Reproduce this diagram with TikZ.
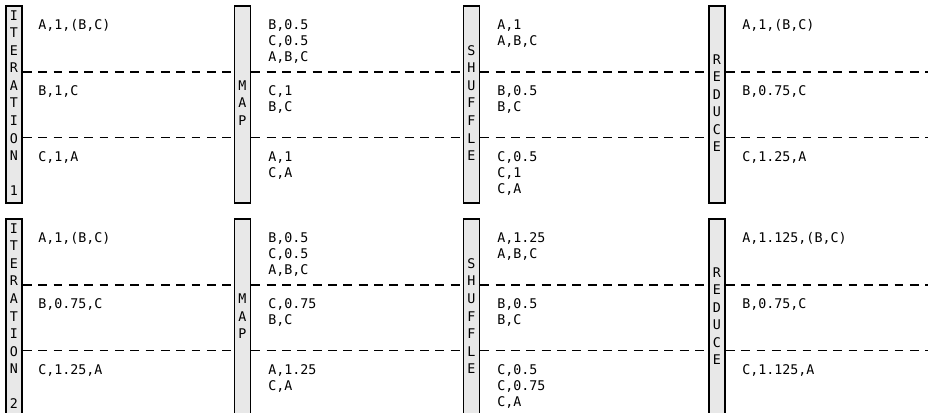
\documentclass[tikz,border=0pt]{standalone}
\usepackage{fontspec}
\setmonofont{DejaVu Sans Mono}
\definecolor{barfill}{HTML}{E8E8E8}
\newcommand\vstack[1]{{\renewcommand\arraystretch{1.094}\begin{tabular}{@{}c@{}}#1\end{tabular}}}
\newcommand\celltxt[1]{\begin{tabular}[t]{@{}l@{}}#1\end{tabular}}
\tikzset{
  bar/.style={draw=black, fill=barfill, line width=1.1pt, rectangle, inner sep=0pt,
    minimum width=12.2pt, minimum height=147.75pt, font=\ttfamily\fontsize{10}{12}\selectfont},
  celltext/.style={anchor=base west, inner sep=0pt, font=\ttfamily\fontsize{10}{12}\selectfont},
  sepline/.style={line width=1pt, dash pattern=on 6.6pt off 4.9pt}
}
\begin{document}
\begin{tikzpicture}[x=0.75pt,y=-0.75pt]
\useasboundingbox (0,0) rectangle (928,413);
\clip (0,0) rectangle (928,413);
% ---------- row 1 ----------
\node[bar] (it1) at (14,104.5) {\vstack{I\\T\\E\\R\\A\\T\\I\\O\\N\\ \\1}};
\node[bar] (map1) at (242.5,104.5) {\vstack{M\\A\\P}};
\node[bar] (sh1) at (471.5,104.5) {\vstack{S\\H\\U\\F\\F\\L\\E}};
\node[bar] (red1) at (717,104.5) {\vstack{R\\E\\D\\U\\C\\E}};
\coordinate (r1a) at (928,72);
\coordinate (r1b) at (928,137.5);
\draw[sepline] (it1.east |- r1a) -- (map1.west |- r1a);
\draw[sepline] (it1.east |- r1b) -- (map1.west |- r1b);
\draw[sepline] (map1.east |- r1a) -- (sh1.west |- r1a);
\draw[sepline] (map1.east |- r1b) -- (sh1.west |- r1b);
\draw[sepline] (sh1.east |- r1a) -- (red1.west |- r1a);
\draw[sepline] (sh1.east |- r1b) -- (red1.west |- r1b);
\draw[sepline] (red1.east |- r1a) -- (r1a);
\draw[sepline] (red1.east |- r1b) -- (r1b);
\node[celltext] (t111) at (38,30) {\celltxt{A,1,(B,C)}};
\node[celltext] (t112) at (38,96) {\celltxt{B,1,C}};
\node[celltext] (t113) at (38,161.5) {\celltxt{C,1,A}};
\node[celltext] (t121) at (268,30) {\celltxt{B,0.5\\C,0.5\\A,B,C}};
\node[celltext] (t122) at (268,96) {\celltxt{C,1\\B,C}};
\node[celltext] (t123) at (268,161.5) {\celltxt{A,1\\C,A}};
\node[celltext] (t131) at (497,30) {\celltxt{A,1\\A,B,C}};
\node[celltext] (t132) at (497,96) {\celltxt{B,0.5\\B,C}};
\node[celltext] (t133) at (497,161.5) {\celltxt{C,0.5\\C,1\\C,A}};
\node[celltext] (t141) at (742,30) {\celltxt{A,1,(B,C)}};
\node[celltext] (t142) at (742,96) {\celltxt{B,0.75,C}};
\node[celltext] (t143) at (742,161.5) {\celltxt{C,1.25,A}};
% ---------- row 2 ----------
\node[bar] (it2) at (14,317.5) {\vstack{I\\T\\E\\R\\A\\T\\I\\O\\N\\ \\2}};
\node[bar] (map2) at (242.5,317.5) {\vstack{M\\A\\P}};
\node[bar] (sh2) at (471.5,317.5) {\vstack{S\\H\\U\\F\\F\\L\\E}};
\node[bar] (red2) at (717,317.5) {\vstack{R\\E\\D\\U\\C\\E}};
\coordinate (r2a) at (928,285);
\coordinate (r2b) at (928,350.5);
\draw[sepline] (it2.east |- r2a) -- (map2.west |- r2a);
\draw[sepline] (it2.east |- r2b) -- (map2.west |- r2b);
\draw[sepline] (map2.east |- r2a) -- (sh2.west |- r2a);
\draw[sepline] (map2.east |- r2b) -- (sh2.west |- r2b);
\draw[sepline] (sh2.east |- r2a) -- (red2.west |- r2a);
\draw[sepline] (sh2.east |- r2b) -- (red2.west |- r2b);
\draw[sepline] (red2.east |- r2a) -- (r2a);
\draw[sepline] (red2.east |- r2b) -- (r2b);
\node[celltext] (t211) at (38,243) {\celltxt{A,1,(B,C)}};
\node[celltext] (t212) at (38,309) {\celltxt{B,0.75,C}};
\node[celltext] (t213) at (38,374.5) {\celltxt{C,1.25,A}};
\node[celltext] (t221) at (268,243) {\celltxt{B,0.5\\C,0.5\\A,B,C}};
\node[celltext] (t222) at (268,309) {\celltxt{C,0.75\\B,C}};
\node[celltext] (t223) at (268,374.5) {\celltxt{A,1.25\\C,A}};
\node[celltext] (t231) at (497,243) {\celltxt{A,1.25\\A,B,C}};
\node[celltext] (t232) at (497,309) {\celltxt{B,0.5\\B,C}};
\node[celltext] (t233) at (497,374.5) {\celltxt{C,0.5\\C,0.75\\C,A}};
\node[celltext] (t241) at (742,243) {\celltxt{A,1.125,(B,C)}};
\node[celltext] (t242) at (742,309) {\celltxt{B,0.75,C}};
\node[celltext] (t243) at (742,374.5) {\celltxt{C,1.125,A}};
\end{tikzpicture}
\end{document}
